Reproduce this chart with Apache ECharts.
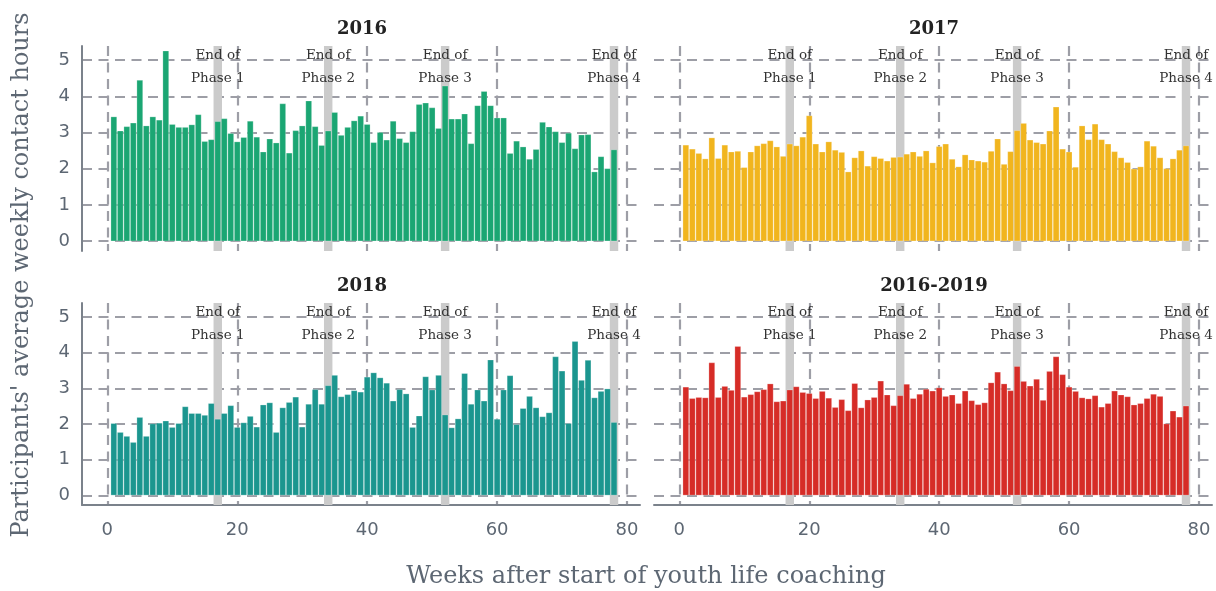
<!DOCTYPE html>
<html lang="en">
<head>
    <meta charset="UTF-8">
    <title>Weekly contact hours</title>
    <script src="https://cdn.jsdelivr.net/npm/echarts@6/dist/echarts.min.js"></script>
</head>
<body style="margin:0;background:#fff">

<div id="container" style="width:1216px;height:591px"></div>
<script type="text/javascript">
    // weekly averages, week 1..78
    var panelNames = ['2016', '2017', '2018', '2016-2019'];
    var panelColors = ['#1ba673', '#f1b51e', '#1b968f', '#d62c27'];

    var hours2016 = [3.44,3.05,3.17,3.27,4.45,3.19,3.44,3.35,5.26,3.23,3.15,3.15,3.22,3.50,2.76,2.81,3.31,3.39,2.98,2.75,
        2.87,3.32,2.88,2.47,2.83,2.72,3.80,2.44,3.06,3.19,3.88,3.17,2.65,3.05,3.56,2.93,3.15,3.33,3.46,3.23,
        2.73,3.01,2.80,3.32,2.84,2.73,3.03,3.78,3.82,3.69,3.12,4.29,3.38,3.38,3.52,2.70,3.75,4.14,3.75,3.41,
        3.41,2.43,2.77,2.61,2.27,2.54,3.29,3.16,3.03,2.73,2.99,2.56,2.94,2.95,1.92,2.34,2.01,2.53];
    var hours2017 = [2.66,2.55,2.43,2.28,2.86,2.29,2.66,2.47,2.49,2.04,2.47,2.64,2.70,2.78,2.61,2.35,2.69,2.64,2.88,3.47,
        2.69,2.47,2.75,2.52,2.46,1.92,2.31,2.50,2.08,2.34,2.29,2.22,2.32,2.33,2.41,2.47,2.35,2.50,2.17,2.62,
        2.69,2.27,2.06,2.39,2.25,2.22,2.19,2.49,2.83,2.13,2.48,3.06,3.26,2.80,2.73,2.69,3.05,3.71,2.55,2.47,
        2.05,3.19,2.81,3.24,2.81,2.69,2.48,2.31,2.18,2.00,2.06,2.77,2.63,2.31,2.01,2.28,2.52,2.64];
    var hours2018 = [2.02,1.77,1.66,1.49,2.19,1.66,2.01,2.03,2.09,1.91,2.02,2.49,2.30,2.30,2.25,2.58,2.14,2.30,2.52,1.91,
        2.04,2.22,1.92,2.54,2.60,1.77,2.46,2.61,2.76,1.92,2.56,2.97,2.56,3.08,3.37,2.77,2.83,2.94,2.90,3.32,
        3.44,3.30,3.15,2.65,2.97,2.85,1.91,2.23,3.33,2.96,3.37,2.26,1.90,2.15,3.42,2.56,2.96,2.65,3.80,2.14,
        2.96,3.36,1.99,2.44,2.78,2.46,2.21,2.32,3.89,3.49,2.02,4.32,3.23,3.79,2.74,2.92,2.99,2.05];
    var hoursAll = [3.04,2.72,2.75,2.74,3.72,2.75,3.06,2.95,4.18,2.76,2.83,2.91,2.97,3.13,2.63,2.65,2.96,3.05,2.89,2.86,
        2.72,2.92,2.73,2.47,2.69,2.38,3.14,2.46,2.68,2.75,3.21,2.82,2.52,2.80,3.12,2.72,2.84,2.98,2.93,3.02,
        2.78,2.82,2.58,2.93,2.66,2.55,2.60,3.16,3.46,3.13,2.94,3.62,3.20,3.07,3.26,2.67,3.48,3.89,3.39,3.04,
        2.92,2.74,2.71,2.80,2.48,2.58,2.93,2.82,2.77,2.54,2.58,2.72,2.84,2.78,2.01,2.37,2.20,2.51];
    var panelData = [hours2016, hours2017, hours2018, hoursAll];

    var phaseEnds = [17, 34, 52, 78];
    var phaseLabels = ['End of\nPhase 1', 'End of\nPhase 2', 'End of\nPhase 3', 'End of\nPhase 4'];
    var xTicks = [0, 20, 40, 60, 80];
    var yTicks = [0, 1, 2, 3, 4, 5];

    var serif = "'DejaVu Serif', serif";
    var sans = "'DejaVu Sans', sans-serif";
    var gridColor = '#9d9ea6';
    var axisColor = '#7b828b';
    var textGray = '#5d6773';

    var grids = [
        {left: 82, top: 46, width: 558, height: 205},
        {left: 654, top: 46, width: 558, height: 205},
        {left: 82, top: 303, width: 558, height: 202},
        {left: 654, top: 303, width: 558, height: 202}
    ];

    var xAxes = [], yAxes = [], series = [], graphics = [];
    for (var i = 0; i < 4; i++) {
        var bottom = i >= 2, left = (i % 2 === 0);
        xAxes.push({
            type: 'value', gridIndex: i, min: -3.9, max: 82,
            axisLine: {show: bottom, onZero: false, lineStyle: {color: axisColor, width: 2}},
            axisTick: {show: false, customValues: xTicks},
            axisLabel: {show: bottom, customValues: xTicks, margin: 16, fontFamily: sans, fontSize: 18, color: textGray},
            splitLine: {show: true, lineStyle: {color: gridColor, width: 2.2, type: [10, 6.5]}}
        });
        yAxes.push({
            type: 'value', gridIndex: i, min: -0.27, max: 5.39,
            axisLine: {show: left, onZero: false, lineStyle: {color: axisColor, width: 2}},
            axisTick: {show: false, customValues: yTicks},
            axisLabel: {show: left, customValues: yTicks, margin: 12, fontFamily: sans, fontSize: 18, color: textGray},
            splitLine: {show: true, lineStyle: {color: gridColor, width: 2.2, type: [10, 6.5]}}
        });
        var pts = panelData[i].map(function (v, k) { return [k + 1, v]; });
        series.push({
            type: 'bar', xAxisIndex: i, yAxisIndex: i, data: pts,
            barWidth: 6.3,
            itemStyle: {color: panelColors[i], borderColor: 'rgba(255,255,255,0.45)', borderWidth: 0.5},
            markArea: {
                silent: true,
                itemStyle: {color: '#cbcbcb'},
                data: phaseEnds.map(function (w) { return [{xAxis: w - 0.65}, {xAxis: w + 0.65}]; })
            },
            markPoint: {
                silent: true, symbol: 'circle', symbolSize: 0,
                label: {show: true, position: 'inside', fontFamily: serif, fontSize: 13.5, lineHeight: 23, color: '#333'},
                data: phaseEnds.map(function (w, j) {
                    return {coord: [w, 4.8], label: {formatter: phaseLabels[j]}};
                })
            }
        });
        graphics.push({
            type: 'text', x: grids[i].left + grids[i].width / 2 + 1, y: grids[i].top - 17,
            style: {text: panelNames[i], fontFamily: serif, fontWeight: 'bold', fontSize: 18, fill: '#222',
                align: 'center', verticalAlign: 'middle'}
        });
    }

    graphics.push({
        type: 'text', x: 646, y: 577,
        style: {text: 'Weeks after start of youth life coaching', fontFamily: serif, fontSize: 24, fill: textGray,
            align: 'center', verticalAlign: 'middle'}
    });
    graphics.push({
        type: 'text', x: 22, y: 275, rotation: Math.PI / 2,
        style: {text: "Participants' average weekly contact hours", fontFamily: serif, fontSize: 24, fill: textGray,
            align: 'center', verticalAlign: 'middle'}
    });

    var myChart = echarts.init(document.getElementById('container'));
    var option = {
        animation: false,
        backgroundColor: '#fff',
        grid: grids,
        xAxis: xAxes,
        yAxis: yAxes,
        series: series,
        graphic: graphics
    };
    myChart.setOption(option, true);
</script>
</body>
</html>
